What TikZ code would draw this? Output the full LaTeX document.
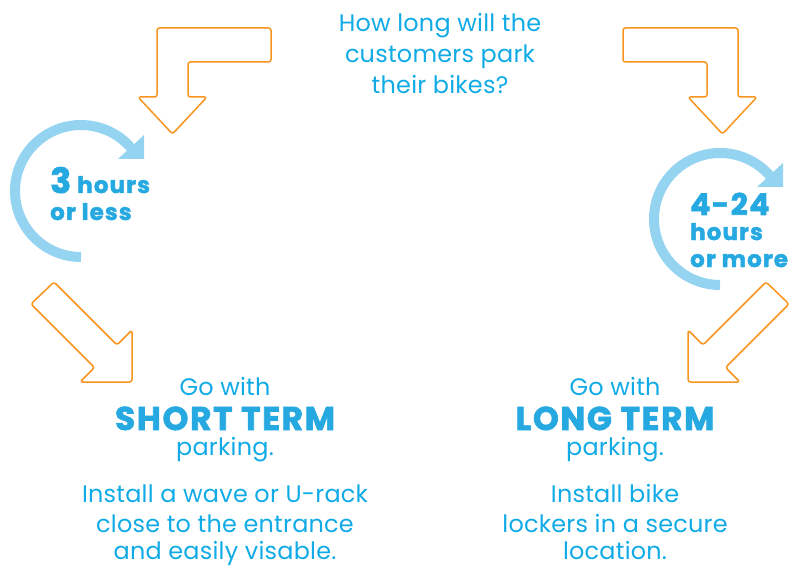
\documentclass[tikz,border=0pt]{standalone}
\usepackage{fontspec}
\setmainfont{Poppins}[LetterSpace=1]
\newfontfamily\heavyfont{Poppins}[LetterSpace=5, BoldFeatures={FakeBold=2}]
\definecolor{txtblue}{RGB}{16,171,230}
\definecolor{boldblue}{RGB}{38,169,225}
\definecolor{arcblue}{RGB}{148,212,240}
\definecolor{arrorange}{RGB}{247,148,29}
\tikzset{
  flow/.style={draw=arrorange, line width=1.5bp, rounded corners=2.5bp, line join=round},
  cycarc/.style={draw=arcblue, line width=10bp},
  cychead/.style={fill=arcblue},
  body/.style={text=txtblue, inner sep=0pt, anchor=base, font=\fontsize{24}{28}\selectfont},
  head/.style={text=boldblue, inner sep=0pt, anchor=base, font=\fontsize{33}{36}\selectfont\heavyfont\bfseries},
  dur/.style={text=boldblue, inner sep=0pt, anchor=base west, font=\fontsize{23}{28}\selectfont\heavyfont\bfseries},
}
\begin{document}
\begin{tikzpicture}[x=1bp,y=-1bp]
\useasboundingbox (0,0) rectangle (797,567);
% question
\node[body] (q1) at (440,32) {How long will the};
\node[body] (q2) at (440,63) {customers park};
\node[body] (q3) at (440,94) {their bikes?};
% top-left flow arrow
\draw[flow] (157,28) -- (271,28) -- (271,62) -- (188,62) -- (188,97) -- (207,97) -- (172.5,134) -- (138,97) -- (157,97) -- cycle;
% top-right flow arrow
\draw[flow] (623,28) -- (738,28) -- (738,97) -- (757,97) -- (722.5,134) -- (688,97) -- (707,97) -- (707,62) -- (623,62) -- cycle;
% left cycle
\draw[cycarc] (81,257) arc[start angle=90, end angle=319, radius=66];
\fill[cychead] (144,135) -- (144,159) -- (118,159) -- cycle;
% right cycle
\draw[cycarc] (720,285) arc[start angle=90, end angle=319, radius=66];
\fill[cychead] (783,163) -- (783,187) -- (757,187) -- cycle;
% durations
\node[dur] (d1) at (50,193) {{\fontsize{35}{38}\selectfont 3} hours};
\node[dur] (d2) at (50,220) {or less};
\node[dur] (d3) at (690,215) {{\fontsize{30}{32}\selectfont 4-24}};
\node[dur] (d4) at (690,240) {hours};
\node[dur] (d5) at (690,267) {or more};
% bottom flow arrows
\draw[flow] (54,282) -- (117,345) -- (132,330) -- (132,382) -- (80,382) -- (94.5,367.5) -- (31,304) -- cycle;
\draw[flow] (766,282) -- (703,345) -- (688,330) -- (688,382) -- (740,382) -- (725.5,367.5) -- (789,304) -- cycle;
% left result
\node[body] (l1) at (225,395) {Go with};
\node[head] (l2) at (225,430) {SHORT TERM};
\node[body] (l3) at (225,455) {parking.};
\node[body] (l4) at (225,502) {Install a wave or U-rack};
\node[body] (l5) at (225,532) {close to the entrance};
\node[body] (l6) at (225,559) {and easily visable.};
% right result
\node[body] (r1) at (615,395) {Go with};
\node[head] (r2) at (615,430) {LONG TERM};
\node[body] (r3) at (615,455) {parking.};
\node[body] (r4) at (615,502) {Install bike};
\node[body] (r5) at (615,532) {lockers in a secure};
\node[body] (r6) at (615,559) {location.};
\end{tikzpicture}
\end{document}
